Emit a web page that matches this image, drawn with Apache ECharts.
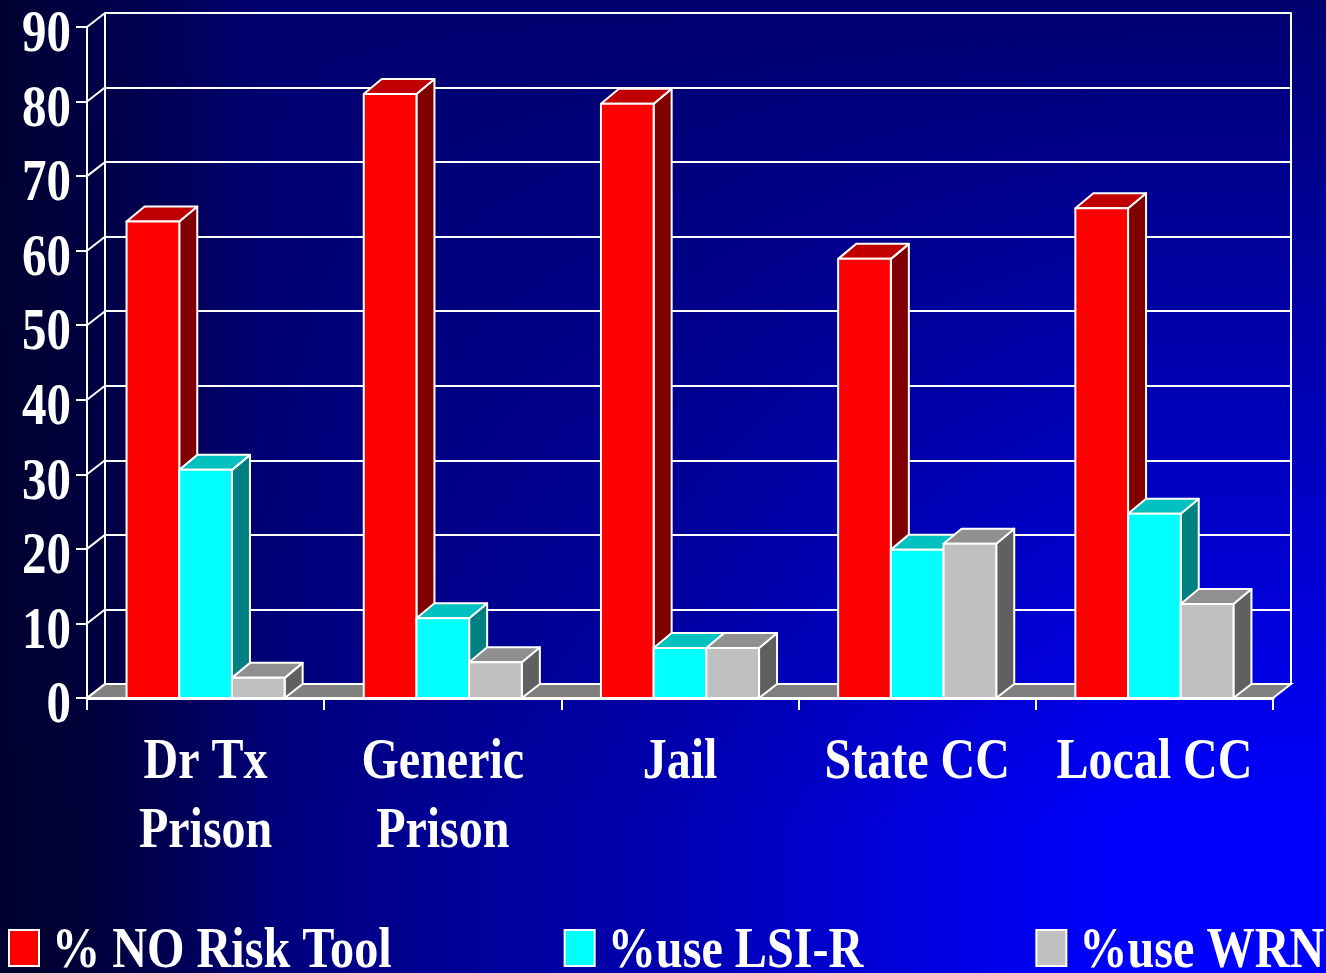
<!DOCTYPE html>
<html><head><meta charset="utf-8">
<style>html,body{margin:0;padding:0;background:#000050}#c{width:1326px;height:973px}</style>
<script src="https://cdn.jsdelivr.net/npm/echarts@6/dist/echarts.min.js"></script>
</head><body><div id="c"></div>
<script>
const categories = ['Dr Tx\nPrison', 'Generic\nPrison', 'Jail', 'State CC', 'Local CC'];
const yTicks = [0, 10, 20, 30, 40, 50, 60, 70, 80, 90];
const noRiskTool = [63.9, 81, 79.7, 58.9, 65.7];
const useLsiR = [30.6, 10.7, 6.7, 19.9, 24.7];
const useWrn = [2.7, 4.8, 6.7, 20.7, 12.6];

const FONT = '"Liberation Serif"';
const DX = 18, DY = -14, DY_TOP = -15, BAR = 52.7, TEXT_STRETCH = 1.2;
const chart = echarts.init(document.getElementById('c'), null, {renderer: 'canvas'});

function barSeries(name, values, slot, front, top, side) {
  return {
    name, type: 'custom', coordinateSystem: 'cartesian2d', xAxisIndex: 0, yAxisIndex: 0,
    itemStyle: {color: front}, z: 5,
    data: values.map((v, i) => [i, v]),
    clip: false,
    renderItem(params, api) {
      const i = api.value(0), v = api.value(1);
      const t = api.coord([i, v]), b = api.coord([i, 0]);
      const x0 = t[0] + (slot - 1.5) * BAR, x1 = x0 + BAR, yt = t[1], yb = b[1];
      const line = {stroke: '#fff', lineWidth: 2, lineJoin: 'round'};
      return {type: 'group', children: [
        {type: 'polygon', shape: {points: [[x1, yt], [x1 + DX, yt + DY_TOP], [x1 + DX, yb + DY], [x1, yb]]},
          style: Object.assign({fill: side}, line)},
        {type: 'polygon', shape: {points: [[x0, yt], [x0 + DX, yt + DY_TOP], [x1 + DX, yt + DY_TOP], [x1, yt]]},
          style: Object.assign({fill: top}, line)},
        {type: 'rect', shape: {x: x0, y: yt, width: BAR, height: yb - yt},
          style: Object.assign({fill: front}, line)}
      ]};
    }
  };
}

const option = {
  animation: false,
  backgroundColor: {type: 'linear', x: 0, y: 0, x2: 1, y2: 0, colorStops: [
    {offset: 0, color: '#000030'}, {offset: .1, color: '#000060'}, {offset: .25, color: '#000085'},
    {offset: .35, color: '#000098'}, {offset: .5, color: '#0000b0'}, {offset: .7, color: '#0000e0'},
    {offset: .85, color: '#0000ff'}, {offset: 1, color: '#0000ff'}]},
  graphic: {elements: [
    {type: 'rect', z: -20, silent: true, shape: {x: 0, y: 0, width: 1326, height: 973},
      style: {fill: {type: 'linear', x: 0, y: 0, x2: 0, y2: 1, colorStops: [
        {offset: 0, color: 'rgba(0,0,112,1)'}, {offset: .85, color: 'rgba(0,0,112,0)'}, {offset: 1, color: 'rgba(0,0,112,0)'}]}}},
    {type: 'rect', z: -19, silent: true, shape: {x: 0, y: 0, width: 1326, height: 973},
      style: {fill: {type: 'linear', x: 0, y: 0, x2: 1, y2: 0, colorStops: [
        {offset: 0, color: 'rgba(0,0,48,1)'}, {offset: .2, color: 'rgba(0,0,48,0)'}, {offset: 1, color: 'rgba(0,0,48,0)'}]}}}
  ]},
  legend: {
    left: 8, top: 924, padding: 0, itemWidth: 30, itemHeight: 36, itemGap: 172, icon: 'rect',
    data: ['% NO Risk Tool', '%use LSI-R', '%use WRN'],
    itemStyle: {borderColor: '#fff', borderWidth: 2},
    textStyle: {color: '#fff', fontFamily: FONT, fontWeight: 'bold', fontSize: 48.2, padding: [0, 0, 0, 8]}
  },
  grid: [
    {left: 87, right: 53, top: 27, bottom: 275},
    {left: 105, right: 35, top: 13, bottom: 289}
  ],
  xAxis: [
    {type: 'category', gridIndex: 0, data: categories,
      axisLine: {lineStyle: {color: '#fff', width: 3}},
      axisTick: {show: true, alignWithLabel: false, length: 12, lineStyle: {color: '#fff', width: 2}},
      axisLabel: {color: '#fff', fontFamily: FONT, fontWeight: 'bold', fontSize: 48, lineHeight: 58, margin: 30, interval: 0}},
    {type: 'category', gridIndex: 1, data: categories, show: false}
  ],
  yAxis: [
    {type: 'value', gridIndex: 0, min: 0, max: 90, interval: 10, splitLine: {show: false},
      axisLine: {show: true, lineStyle: {color: '#fff', width: 2}},
      axisTick: {show: true, length: 11, lineStyle: {color: '#fff', width: 2}},
      axisLabel: {color: '#fff', fontFamily: FONT, fontWeight: 'bold', fontSize: 49, margin: 16, verticalAlign: 'top', lineHeight: 15}},
    {type: 'value', gridIndex: 1, min: 0, max: 90, interval: 10,
      axisLine: {show: true, lineStyle: {color: '#fff', width: 2}},
      axisTick: {show: false}, axisLabel: {show: false},
      splitLine: {show: true, lineStyle: {color: '#fff', width: 2}}},
    {type: 'value', gridIndex: 1, position: 'right', min: 0, max: 90, interval: 10,
      axisLine: {show: true, lineStyle: {color: '#fff', width: 2}},
      axisTick: {show: false}, axisLabel: {show: false}, splitLine: {show: false}}
  ],
  series: [
    {
      name: 'wall', type: 'custom', coordinateSystem: 'cartesian2d', xAxisIndex: 0, yAxisIndex: 0, z: 3, clip: false,
      data: yTicks.map(v => [0, v]),
      renderItem(params, api) {
        const v = api.value(1), p = api.coord([0, v]), band = api.size([1, 0])[0];
        const xl = p[0] - band / 2, xr = xl + band * categories.length, y = p[1];
        const line = {stroke: '#fff', lineWidth: 2};
        const kids = [{type: 'line', shape: {x1: xl, y1: y, x2: xl + DX, y2: y + DY}, style: line}];
        if (v === 0) kids.unshift({type: 'polygon',
          shape: {points: [[xl, y], [xl + DX, y + DY], [xr + DX, y + DY], [xr, y]]},
          style: Object.assign({fill: '#808080'}, line)});
        return {type: 'group', children: kids};
      }
    },
    barSeries('% NO Risk Tool', noRiskTool, 0, '#ff0000', '#c00000', '#800000'),
    barSeries('%use LSI-R', useLsiR, 1, '#00ffff', '#00c0c0', '#008080'),
    barSeries('%use WRN', useWrn, 2, '#c0c0c0', '#909090', '#606060')
  ]
};
chart.setOption(option);

// The reference's lettering is taller than the font's own proportions: stretch every label vertically.
const zr = chart.getZr();
(function stretch(list) {
  list.forEach(el => {
    if (el.isGroup) { stretch(el.children()); return; }
    if (el.type === 'text') { el.scaleY = TEXT_STRETCH; el.markRedraw(); }
  });
})(zr.storage.getRoots());
zr.refresh();
</script></body></html>
